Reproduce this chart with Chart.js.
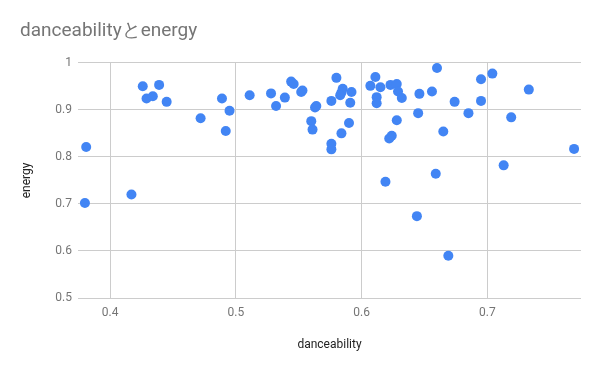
<!DOCTYPE html>
<html>
<head>
<meta charset="utf-8">
<script src="https://cdn.jsdelivr.net/npm/chart.js@4"></script>
<style>
  html, body { margin: 0; padding: 0; background: #fff; }
  #wrap { width: 600px; height: 371px; }
</style>
</head>
<body>
<div id="wrap"><canvas id="chart" width="600" height="371"></canvas></div>
<script>
// danceability (x) and energy (y) for each track
const danceability = [
  0.381, 0.380, 0.417, 0.426, 0.429, 0.434, 0.439, 0.445, 0.472, 0.489,
  0.495, 0.492, 0.511, 0.528, 0.532, 0.539, 0.544, 0.546, 0.552, 0.553,
  0.563, 0.564, 0.560, 0.561, 0.576, 0.580, 0.576, 0.576, 0.584, 0.585,
  0.584, 0.583, 0.592, 0.591, 0.590, 0.607, 0.611, 0.615, 0.612, 0.612,
  0.623, 0.628, 0.629, 0.632, 0.628, 0.624, 0.622, 0.619, 0.660, 0.704,
  0.695, 0.646, 0.656, 0.674, 0.695, 0.733, 0.645, 0.685, 0.719, 0.665,
  0.769, 0.713, 0.659, 0.644, 0.669
];
const energy = [
  0.821, 0.702, 0.720, 0.950, 0.924, 0.929, 0.953, 0.917, 0.882, 0.924,
  0.898, 0.855, 0.931, 0.935, 0.908, 0.926, 0.960, 0.955, 0.938, 0.941,
  0.905, 0.908, 0.876, 0.858, 0.919, 0.968, 0.828, 0.816, 0.850, 0.945,
  0.937, 0.931, 0.938, 0.915, 0.872, 0.951, 0.970, 0.948, 0.927, 0.914,
  0.953, 0.955, 0.939, 0.925, 0.878, 0.845, 0.839, 0.747, 0.989, 0.977,
  0.965, 0.934, 0.939, 0.917, 0.919, 0.943, 0.893, 0.893, 0.884, 0.854,
  0.817, 0.782, 0.764, 0.674, 0.590
];
const xTicks = [0.4, 0.5, 0.6, 0.7];
const yTicks = [0.5, 0.6, 0.7, 0.8, 0.9, 1];

const points = danceability.map((d, i) => ({ x: d, y: energy[i] }));

const tickColor = '#757575';
const gridColor = '#cccccc';

new Chart(document.getElementById('chart'), {
  type: 'scatter',
  data: {
    datasets: [{
      label: 'energy',
      data: points,
      backgroundColor: '#4285f4',
      borderColor: '#4285f4',
      borderWidth: 0,
      pointRadius: 5,
      pointHoverRadius: 5
    }]
  },
  options: {
    responsive: false,
    animation: false,
    layout: { padding: { left: 20, right: 19, top: 0, bottom: 0 } },
    plugins: {
      legend: { display: false },
      tooltip: { enabled: false },
      title: {
        display: true,
        text: 'danceabilityとenergy',
        align: 'start',
        color: '#757575',
        font: { family: 'Roboto', size: 19, weight: 'normal' },
        padding: { top: 20, bottom: 20 }
      }
    },
    scales: {
      x: {
        type: 'linear',
        min: 0.3745,
        max: 0.7745,
        afterBuildTicks: s => { s.ticks = xTicks.map(v => ({ value: v })); },
        afterFit: s => { s.height = 73; },
        border: { display: false },
        grid: { color: gridColor, drawTicks: false },
        ticks: {
          color: tickColor,
          padding: 8,
          font: { family: 'Roboto', size: 12 },
          callback: v => String(v)
        },
        title: {
          display: true,
          text: 'danceability',
          color: '#222',
          font: { family: 'Roboto', size: 12 },
          padding: { top: 0, bottom: 19 }
        }
      },
      y: {
        type: 'linear',
        min: 0.5,
        max: 1,
        afterBuildTicks: s => { s.ticks = yTicks.map(v => ({ value: v })); },
        afterFit: s => { s.width = 58; },
        border: { display: false },
        grid: { color: gridColor, drawTicks: false },
        ticks: {
          color: tickColor,
          padding: 6,
          font: { family: 'Roboto', size: 12 },
          callback: v => String(v)
        },
        title: {
          display: true,
          text: 'energy',
          color: '#222',
          font: { family: 'Roboto', size: 12 },
          padding: { top: 0, bottom: 0 }
        }
      }
    }
  }
});
</script>
</body>
</html>
